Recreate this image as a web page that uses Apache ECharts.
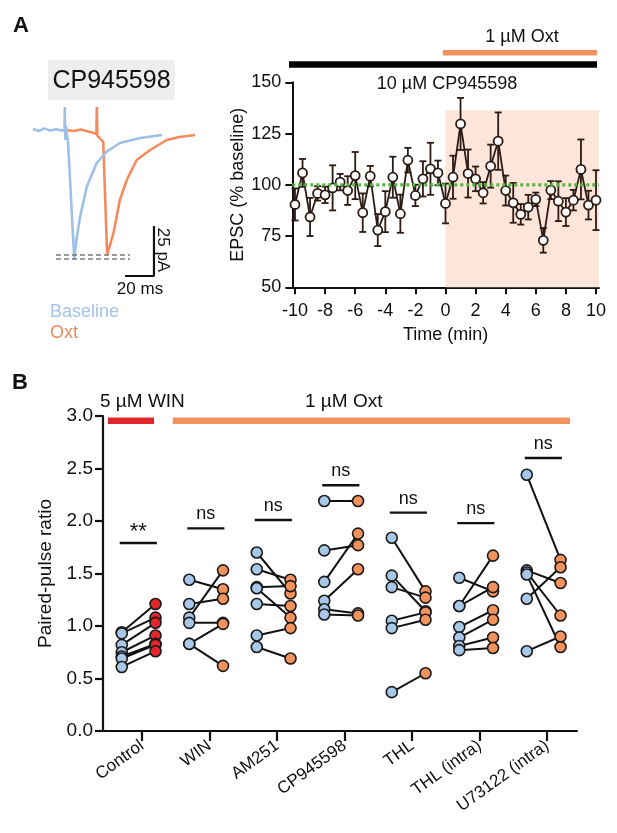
<!DOCTYPE html>
<html>
<head>
<meta charset="utf-8">
<script src="https://cdn.jsdelivr.net/npm/echarts@6/dist/echarts.min.js"></script>
<style>
  html, body { margin: 0; padding: 0; background: #fff; }
  #main { width: 617px; height: 833px; }
</style>
</head>
<body>
<div id="main"></div>
<script>
  // ---- panel A, time course ----
  var timeMin = [-10, -9.5, -9, -8.5, -8, -7.5, -7, -6.5, -6, -5.5, -5, -4.5, -4, -3.5, -3, -2.5, -2, -1.5, -1, -0.5,
    0, 0.5, 1, 1.5, 2, 2.5, 3, 3.5, 4, 4.5, 5, 5.5, 6, 6.5, 7, 7.5, 8, 8.5, 9, 9.5, 10];
  var epscMean = [90.4, 105.8, 84.3, 95.8, 95.1, 98.5, 101.3, 97.2, 104.5, 86.4, 104.2, 77.9, 86.9, 103.7, 85.9, 112.0, 94.8, 102.9, 107.8, 105.8,
    90.9, 103.7, 129.7, 105.5, 102.9, 96.1, 109.1, 121.3, 97.2, 91.2, 85.6, 89.1, 92.9, 72.9, 97.4, 92.0, 86.7, 92.5, 107.5, 90.1, 92.5];
  var epscSem = [7.8, 6.8, 9.3, 3.5, 4, 11, 4, 7, 11.5, 9.4, 5, 7.8, 10, 10, 9.3, 6, 5.2, 8.6, 12.7, 6,
    9.7, 10.5, 12.7, 11.7, 6, 5.2, 10.5, 14, 7.3, 9.7, 5, 6, 3.3, 6, 4.4, 9.7, 6.8, 5, 14.6, 7, 14.6];
  var timeTicks = [-10, -8, -6, -4, -2, 0, 2, 4, 6, 8, 10];

  // ---- panel A, example traces (ms, pA) ----
  var baselineTrace = [[2, 0.5], [6, -0.5], [10, 0.8], [14, -0.3], [18, 0.4], [22, -0.2], [23.8, 0], [24, 11.5], [24.3, -5],
    [24.7, 2], [25.2, -1], [26.2, -6], [28, -30], [30.5, -64.5], [32, -55], [34.5, -43.5], [39.1, -28.5], [46, -16.5],
    [52.9, -10.8], [62, -6.5], [75.9, -4], [91, -2.5]];
  var oxtTrace = [[25.5, 0], [30, -0.5], [35, 0.3], [40, -0.8], [44, -1.5], [45.8, -2], [46.1, 11.5], [46.5, -3], [48, -4],
    [50.5, -6], [53.2, -62.5], [55, -58], [57.5, -51.7], [62, -35], [66.7, -25], [73.6, -15], [82.8, -10], [94.3, -5],
    [103, -3.5], [113.8, -2.5]];
  var peakLines = [-62.5, -64.5];

  // ---- panel B, paired-pulse ratio ----
  var groups = ['Control', 'WIN', 'AM251', 'CP945598', 'THL', 'THL (intra)', 'U73122 (intra)'];
  var controlPre = [0.94, 0.93, 0.82, 0.75, 0.71, 0.69, 0.61];
  var controlPost = [1.21, 1.08, 1.03, 0.91, 0.83, 0.82, 0.76];
  var winPre = [1.44, 1.21, 1.08, 1.03, 0.83, 0.83];
  var winPost = [1.35, 1.26, 1.53, 1.03, 1.02, 0.62];
  var am251Pre = [1.70, 1.54, 1.37, 1.36, 1.21, 0.91, 0.80];
  var am251Post = [1.31, 1.44, 1.38, 1.08, 1.19, 0.98, 0.69];
  var cpPre = [2.19, 1.72, 1.42, 1.24, 1.16, 1.11];
  var cpPost = [2.19, 1.77, 1.88, 1.54, 1.12, 1.10];
  var thlPre = [1.84, 1.48, 1.37, 1.05, 0.98, 0.37];
  var thlPost = [1.33, 1.14, 1.27, 1.13, 1.06, 0.55];
  var thlIntraPre = [1.46, 1.19, 1.19, 0.99, 0.89, 0.81, 0.77];
  var thlIntraPost = [1.33, 1.67, 1.37, 1.15, 1.06, 0.89, 0.79];
  var u73Pre = [2.44, 1.53, 1.51, 1.49, 1.26, 0.76];
  var u73Post = [1.63, 1.41, 1.10, 0.80, 1.56, 0.90];
  var sigY = [1.79, 1.93, 2.01, 2.34, 2.08, 1.98, 2.60];
  var sigText = ['**', 'ns', 'ns', 'ns', 'ns', 'ns', 'ns'];

  var FONT = "'Liberation Sans', Arial, sans-serif";
  var BLUE = '#a8c8ea', ORANGE = '#f4925e', RED = '#e3262b', INK = '#111';

  var prePost = [[controlPre, controlPost], [winPre, winPost], [am251Pre, am251Post], [cpPre, cpPost],
    [thlPre, thlPost], [thlIntraPre, thlIntraPost], [u73Pre, u73Post]];
  var pairData = [], preData = [], postData = [], winPostData = [];
  prePost.forEach(function (g, i) {
    g[0].forEach(function (v, j) {
      pairData.push([i - 0.3, v, i + 0.2, g[1][j]]);
      preData.push([i - 0.3, v]);
      (i === 0 ? winPostData : postData).push([i + 0.2, g[1][j]]);
    });
  });
  var sigData = sigY.map(function (y, i) { return [i - 0.05, y, i]; });

  var timeData = timeMin.map(function (t, i) { return [t, epscMean[i]]; });
  var errData = timeMin.map(function (t, i) { return [t, epscMean[i], epscSem[i]]; });

  var chart = echarts.init(document.getElementById('main'));

  function seg(a, b, color, w) {
    return { type: 'line', shape: { x1: a[0], y1: a[1], x2: b[0], y2: b[1] }, style: { stroke: color, lineWidth: w } };
  }

  var option = {
    animation: false,
    backgroundColor: '#fff',
    textStyle: { fontFamily: FONT },
    grid: [
      { left: 30, top: 100, width: 174, height: 180 },
      { left: 292.3, top: 82.3, width: 306.7, height: 205 },
      { left: 103, top: 416, width: 474, height: 315 }
    ],
    xAxis: [
      { gridIndex: 0, type: 'value', min: 0, max: 120, show: false },
      {
        gridIndex: 1, type: 'value', min: -10.18, max: 10.2,
        name: 'Time (min)', nameLocation: 'middle', nameGap: 39,
        nameTextStyle: { fontSize: 18, color: INK, fontFamily: FONT },
        axisLine: { onZero: false, lineStyle: { color: INK, width: 2 } },
        axisTick: { customValues: timeTicks, length: 7, lineStyle: { color: INK, width: 2 } },
        axisLabel: { customValues: timeTicks, fontSize: 18, color: INK, margin: 15, fontFamily: FONT },
        splitLine: { show: false }
      },
      {
        gridIndex: 2, type: 'value', min: -0.578, max: 6.444,
        axisLine: { onZero: false, lineStyle: { color: INK, width: 2.2 } },
        axisTick: { customValues: [0, 1, 2, 3, 4, 5, 6], length: 10, lineStyle: { color: INK, width: 2.2 } },
        axisLabel: {
          customValues: [0, 1, 2, 3, 4, 5, 6], rotate: 36, fontSize: 17, color: INK, margin: 13, fontFamily: FONT,
          formatter: function (v) { return groups[Math.round(v)]; }
        },
        splitLine: { show: false }
      }
    ],
    yAxis: [
      { gridIndex: 0, type: 'value', min: -75, max: 15, show: false },
      {
        gridIndex: 1, type: 'value', min: 50, max: 150, interval: 25,
        name: 'EPSC (% baseline)', nameLocation: 'middle', nameGap: 44,
        nameTextStyle: { fontSize: 18, color: INK, fontFamily: FONT },
        axisLine: { show: true, onZero: false, lineStyle: { color: INK, width: 2 } },
        axisTick: { show: true, length: 7, lineStyle: { color: INK, width: 2 } },
        axisLabel: { fontSize: 18, color: INK, margin: 11, fontFamily: FONT },
        splitLine: { show: false }
      },
      {
        gridIndex: 2, type: 'value', min: 0, max: 3, interval: 0.5,
        name: 'Paired-pulse ratio', nameLocation: 'middle', nameGap: 46,
        nameTextStyle: { fontSize: 19, color: INK, fontFamily: FONT },
        axisLine: { show: true, onZero: false, lineStyle: { color: INK, width: 2.2 } },
        axisTick: { show: true, length: 8, lineStyle: { color: INK, width: 2.2 } },
        axisLabel: { fontSize: 19, color: INK, margin: 10, fontFamily: FONT,
          formatter: function (v) { return v.toFixed(1); } },
        splitLine: { show: false }
      }
    ],
    graphic: [
      { type: 'text', left: 13, top: 15, style: { text: 'A', font: 'bold 22px ' + FONT, fill: INK } },
      { type: 'text', left: 12, top: 372, style: { text: 'B', font: 'bold 22px ' + FONT, fill: INK } },
      { type: 'rect', shape: { x: 48, y: 60, width: 127, height: 40 }, style: { fill: '#eeeeee' } },
      { type: 'text', x: 111.5, y: 81, style: { text: 'CP945598', font: '25px ' + FONT, fill: INK, align: 'center', verticalAlign: 'middle' } },
      { type: 'text', x: 50, y: 312, style: { text: 'Baseline', font: '18px ' + FONT, fill: '#a3c3e8', verticalAlign: 'middle' } },
      { type: 'text', x: 50, y: 333, style: { text: 'Oxt', font: '18px ' + FONT, fill: '#f08a58', verticalAlign: 'middle' } },
      { type: 'text', x: 163, y: 250, rotation: -Math.PI / 2, style: { text: '25 pA', font: '17px ' + FONT, fill: INK, align: 'center', verticalAlign: 'middle' } },
      { type: 'text', x: 140, y: 289, style: { text: '20 ms', font: '17px ' + FONT, fill: INK, align: 'center', verticalAlign: 'middle' } },
      { type: 'text', x: 522, y: 37, style: { text: '1 µM Oxt', font: '18px ' + FONT, fill: INK, align: 'center', verticalAlign: 'middle' } },
      { type: 'text', x: 447, y: 84, style: { text: '10 µM CP945598', font: '18px ' + FONT, fill: INK, align: 'center', verticalAlign: 'middle' } },
      { type: 'text', x: 100, y: 402, style: { text: '5 µM WIN', font: '19px ' + FONT, fill: INK, verticalAlign: 'middle' } },
      { type: 'text', x: 305, y: 402, style: { text: '1 µM Oxt', font: '19px ' + FONT, fill: INK, verticalAlign: 'middle' } }
    ],
    series: [
      // traces
      { type: 'line', xAxisIndex: 0, yAxisIndex: 0, data: oxtTrace, symbol: 'none', lineStyle: { color: '#f28c5c', width: 2.6 } },
      { type: 'line', xAxisIndex: 0, yAxisIndex: 0, data: baselineTrace, symbol: 'none', lineStyle: { color: '#9ec0e6', width: 2.6 } },
      { type: 'line', xAxisIndex: 0, yAxisIndex: 0, data: [[17.9, peakLines[0]], [69, peakLines[0]]], symbol: 'none',
        lineStyle: { color: '#777', width: 1.6, type: [5, 3] } },
      { type: 'line', xAxisIndex: 0, yAxisIndex: 0, data: [[17.9, peakLines[1]], [69, peakLines[1]]], symbol: 'none',
        lineStyle: { color: '#777', width: 1.6, type: [5, 3] } },
      { type: 'line', xAxisIndex: 0, yAxisIndex: 0, data: [[85.5, -48], [85.5, -73], [65.5, -73]], symbol: 'none',
        lineStyle: { color: INK, width: 2.2 } },

      // time course: shade, drug bars, baseline
      { type: 'line', xAxisIndex: 1, yAxisIndex: 1, data: [], symbol: 'none',
        markArea: { silent: true, itemStyle: { color: '#fde5d9' }, data: [[{ coord: [0, 50] }, { coord: [10.2, 136.4] }]] } },
      { type: 'line', xAxisIndex: 1, yAxisIndex: 1, clip: false, symbol: 'none', data: [[-10.47, 158.7], [10.07, 158.7]],
        lineStyle: { color: '#000', width: 6.5, cap: 'butt' } },
      { type: 'line', xAxisIndex: 1, yAxisIndex: 1, clip: false, symbol: 'none', data: [[-0.18, 164.4], [10.07, 164.4]],
        lineStyle: { color: ORANGE, width: 5.5, cap: 'butt' } },
      {
        type: 'custom', xAxisIndex: 1, yAxisIndex: 1, data: errData, z: 3,
        renderItem: function (params, api) {
          var x = api.value(0), y = api.value(1), e = api.value(2);
          var t = api.coord([x, y + e]), b = api.coord([x, y - e]);
          return { type: 'group', children: [
            seg(t, b, '#2b1b14', 1.8),
            seg([t[0] - 3.5, t[1]], [t[0] + 3.5, t[1]], '#2b1b14', 1.8),
            seg([b[0] - 3.5, b[1]], [b[0] + 3.5, b[1]], '#2b1b14', 1.8)
          ] };
        }
      },
      { type: 'line', xAxisIndex: 1, yAxisIndex: 1, data: timeData, z: 4, symbol: 'circle', symbolSize: 9,
        itemStyle: { color: '#fff', borderColor: '#2b1b14', borderWidth: 1.8 },
        lineStyle: { color: '#2b1b14', width: 1.8 } },
      { type: 'line', xAxisIndex: 1, yAxisIndex: 1, clip: false, symbol: 'none', z: 5, data: [[-10.18, 100], [10.2, 100]],
        lineStyle: { color: '#55b443', width: 3.2, type: [3, 3], cap: 'butt' } },

      // PPR: drug bars
      { type: 'line', xAxisIndex: 2, yAxisIndex: 2, clip: false, symbol: 'none', data: [[-0.504, 2.955], [0.178, 2.955]],
        lineStyle: { color: RED, width: 6.3, cap: 'butt' } },
      { type: 'line', xAxisIndex: 2, yAxisIndex: 2, clip: false, symbol: 'none', data: [[0.455, 2.955], [6.341, 2.955]],
        lineStyle: { color: ORANGE, width: 6.3, cap: 'butt' } },
      // significance
      {
        type: 'custom', xAxisIndex: 2, yAxisIndex: 2, data: sigData,
        renderItem: function (params, api) {
          var i = api.value(2);
          var l = api.coord([i - 0.33, api.value(1)]), r = api.coord([i + 0.22, api.value(1)]);
          var star = sigText[i] === '**';
          return { type: 'group', children: [
            seg(l, r, INK, 2.4),
            { type: 'text', x: (l[0] + r[0]) / 2, y: l[1] + (star ? 0 : -5),
              style: { text: sigText[i], font: (star ? '22px ' : '18px ') + FONT, fill: INK, align: 'center', verticalAlign: 'bottom' } }
          ] };
        }
      },
      // pairs
      {
        type: 'custom', xAxisIndex: 2, yAxisIndex: 2, data: pairData, z: 2,
        renderItem: function (params, api) {
          return seg(api.coord([api.value(0), api.value(1)]), api.coord([api.value(2), api.value(3)]), INK, 2);
        }
      },
      { type: 'scatter', xAxisIndex: 2, yAxisIndex: 2, data: preData, z: 3, symbolSize: 11,
        itemStyle: { color: BLUE, borderColor: '#1a1a1a', borderWidth: 1.6, opacity: 1 } },
      { type: 'scatter', xAxisIndex: 2, yAxisIndex: 2, data: postData, z: 4, symbolSize: 11,
        itemStyle: { color: ORANGE, borderColor: '#1a1a1a', borderWidth: 1.6, opacity: 1 } },
      { type: 'scatter', xAxisIndex: 2, yAxisIndex: 2, data: winPostData, z: 4, symbolSize: 11,
        itemStyle: { color: RED, borderColor: '#1a1a1a', borderWidth: 1.6, opacity: 1 } }
    ]
  };

  chart.setOption(option);
</script>
</body>
</html>
